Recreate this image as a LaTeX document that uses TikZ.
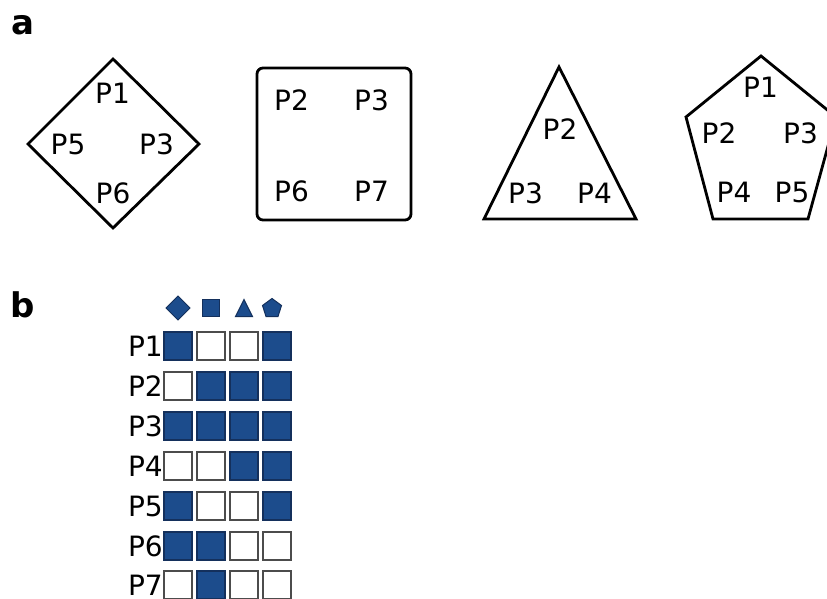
\documentclass[tikz,border=0pt]{standalone}
\usepackage{fontspec}
\setmainfont{DejaVu Sans}
\begin{document}
\begin{tikzpicture}[x=1pt,y=-1pt,
  shapeline/.style={line width=2.8pt, line join=miter},
  lbl/.style={font=\fontsize{28}{30}\selectfont, inner sep=0pt},
  panel/.style={font=\fontsize{34}{36}\selectfont\bfseries, inner sep=0pt},
  cellon/.style={draw={rgb,255:red,20;green,48;blue,92}, line width=1.2pt, fill={rgb,255:red,28;green,76;blue,140}, minimum size=28pt, inner sep=0pt},
  celloff/.style={draw=black!70, line width=1.3pt, fill=white, minimum size=28pt, inner sep=0pt},
  icon/.style={draw={rgb,255:red,20;green,48;blue,92}, line width=1pt, fill={rgb,255:red,28;green,76;blue,140}, line join=miter}]
\clip (0,0) rectangle (827,599);
\fill[white] (0,0) rectangle (827,599);
% panel labels
\node[panel] (pa) at (23,25) {a};
\node[panel] (pb) at (23,305) {b};
% diamond
\draw[shapeline] (113,59) -- (199,144) -- (113,228) -- (28,144) -- cycle;
\node[lbl] (d1) at (112.5,93) {P1};
\node[lbl] (d5) at (68,144) {P5};
\node[lbl] (d3) at (156.5,144) {P3};
\node[lbl] (d6) at (113,193) {P6};
% square
\draw[shapeline, rounded corners=6pt] (257,68) rectangle (411,220);
\node[lbl] (s2) at (291.5,100) {P2};
\node[lbl] (s3) at (371.5,100) {P3};
\node[lbl] (s6) at (291.5,191) {P6};
\node[lbl] (s7) at (371.5,191) {P7};
% triangle
\draw[shapeline] (559,67) -- (636,219) -- (484,219) -- cycle;
\node[lbl] (t2) at (560,129) {P2};
\node[lbl] (t3) at (525.5,193.5) {P3};
\node[lbl] (t4) at (594.5,193.5) {P4};
% pentagon
\draw[shapeline] (761,56) -- (836,117) -- (808,219) -- (713,219) -- (686,117) -- cycle;
\node[lbl] (p1) at (760.5,87.5) {P1};
\node[lbl] (p2) at (719,133.5) {P2};
\node[lbl] (p3) at (800.5,133.5) {P3};
\node[lbl] (p4) at (734,192.5) {P4};
\node[lbl] (p5) at (792,192) {P5};
% header icons
\draw[icon] (178,296) -- (190,308) -- (178,320) -- (166,308) -- cycle;
\draw[icon] (202.5,299.5) rectangle (219.5,316.5);
\draw[icon] (244,299.5) -- (252.5,316.5) -- (235.5,316.5) -- cycle;
\draw[icon] (272,298.5) -- (281.5,305.5) -- (278,316.5) -- (266,316.5) -- (262.5,305.5) -- cycle;
% matrix
\foreach \r/\y/\a/\b/\c/\d in {1/346/on/off/off/on, 2/386/off/on/on/on, 3/426/on/on/on/on, 4/466/off/off/on/on, 5/506/on/off/off/on, 6/546/on/on/off/off, 7/585/off/on/off/off}{
  \node[lbl, anchor=east] (r\r) at (163,\y) {P\r};
  \node[cell\a] (c\r a) at (178,\y) {};
  \node[cell\b] (c\r b) at (211,\y) {};
  \node[cell\c] (c\r c) at (244,\y) {};
  \node[cell\d] (c\r d) at (277,\y) {};
}
\end{tikzpicture}
\end{document}
